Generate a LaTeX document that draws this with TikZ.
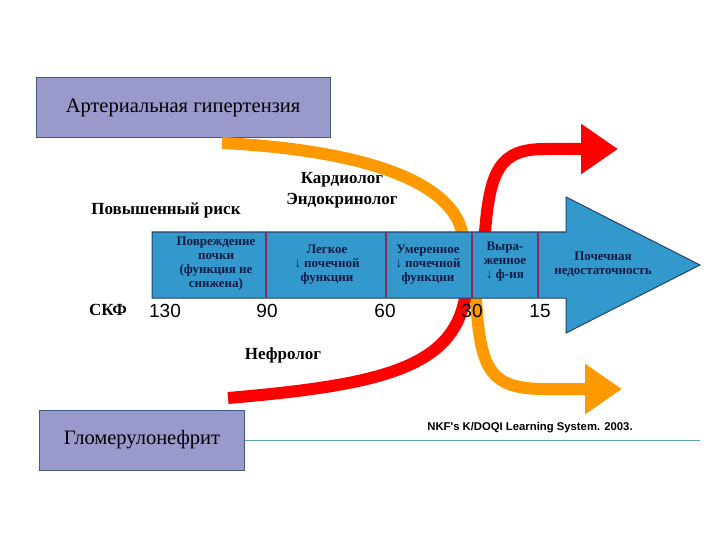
\documentclass[tikz,border=0pt]{standalone}
\usepackage{fontspec}
\setmainfont{Liberation Serif}
\newfontfamily\numfont{Liberation Sans}
\usetikzlibrary{arrows.meta}
\definecolor{BoxFill}{HTML}{9999CC}
\definecolor{BoxLine}{HTML}{3F5A80}
\definecolor{BandFill}{HTML}{3399CC}
\definecolor{BandLine}{HTML}{23406E}
\definecolor{Divider}{HTML}{8E2A5A}
\definecolor{CellInk}{HTML}{0F1A45}
\definecolor{OrangeC}{HTML}{FF9900}
\definecolor{RedC}{HTML}{FF0000}
\definecolor{RuleC}{HTML}{5AA5B5}
\tikzset{
  diagbox/.style={draw=BoxLine, fill=BoxFill, line width=1pt, inner sep=0pt, font=\fontsize{20.5}{22}\selectfont},
  celltext/.style={align=center, text=CellInk, font=\bfseries\fontsize{13}{14}\selectfont, inner sep=0pt},
  gfr/.style={font=\numfont\fontsize{19}{20}\selectfont, inner sep=0pt},
  lbl/.style={font=\bfseries\fontsize{17}{21}\selectfont, inner sep=0pt},
  flow/.style={line width=12pt, -{Triangle[length=37pt,width=48pt]}},
  divider/.style={draw=Divider, line width=1.8pt},
}

\begin{document}
\begin{tikzpicture}[x=1pt, y=-1pt]
  \useasboundingbox (0,0) rectangle (720,540);

  % the two causes
  \node[diagbox, minimum width=294pt, minimum height=60pt] (ht) at (183,108) {Артериальная гипертензия};
  \node[diagbox, minimum width=205pt, minimum height=60pt] (gn) at (142,440) {Гломерулонефрит};
  \coordinate (ruleEnd) at (700,440);
  \draw[RuleC, line width=0.8pt] (gn.east) -- (ruleEnd);

  % curved paths
  \coordinate (oStart) at (222,143);
  \coordinate (oIn) at (462,232);
  \coordinate (oOut) at (476,298);
  \coordinate (oTip) at (622,389);
  \coordinate (rStart) at (228,398);
  \coordinate (rIn) at (465,298);
  \coordinate (rOut) at (485,232);
  \coordinate (rTip) at (618,149);
  \draw[flow, OrangeC] (oStart) .. controls (360,150) and (450,180) .. (oIn) -- (oOut)
    .. controls (480,370) and (490,389) .. (545,389) -- (oTip);
  \draw[flow, RedC] (rStart) .. controls (380,385) and (452,368) .. (rIn) -- (rOut)
    .. controls (490,170) and (500,149) .. (545,149) -- (rTip);

  % CKD stage band
  \draw[draw=BandLine, fill=BandFill, line width=1pt] (152,232) -- (566,232) -- (566,197) -- (700,265)
    -- (566,333) -- (566,298) -- (152,298) -- cycle;
  \foreach \x in {266,386,472,538}
    \draw[divider] (\x,232) -- (\x,298);

  \node[celltext] (s1) at (216,264) {Повреждение\\почки\\(функция не\\снижена)};
  \node[celltext] (s2) at (327,265) {Легкое\\↓ почечной\\функции};
  \node[celltext] (s3) at (428,265) {Умеренное\\↓ почечной\\функции};
  \node[celltext] (s4) at (505,262) {Выра-\\женное\\↓ ф-ия};
  \node[celltext] (s5) at (603,264) {Почечная\\недостаточность};

  % GFR scale
  \node[lbl] (gfrName) at (108,310) {СКФ};
  \node[gfr] (g130) at (165,311) {130};
  \node[gfr] (g90) at (267,311) {90};
  \node[gfr] (g60) at (385,311) {60};
  \node[gfr] (g30) at (472,311) {30};
  \node[gfr] (g15) at (540,311) {15};

  % specialists
  \node[lbl] (risk) at (166,210) {Повышенный риск};
  \node[lbl, align=center] (card) at (342,190) {Кардиолог\\Эндокринолог};
  \node[lbl] (neph) at (283,355) {Нефролог};

  \node[font=\numfont\bfseries\fontsize{11.3}{12}\selectfont, inner sep=0pt] (src) at (530,428) {NKF's K/DOQI Learning System. 2003.};
\end{tikzpicture}
\end{document}
